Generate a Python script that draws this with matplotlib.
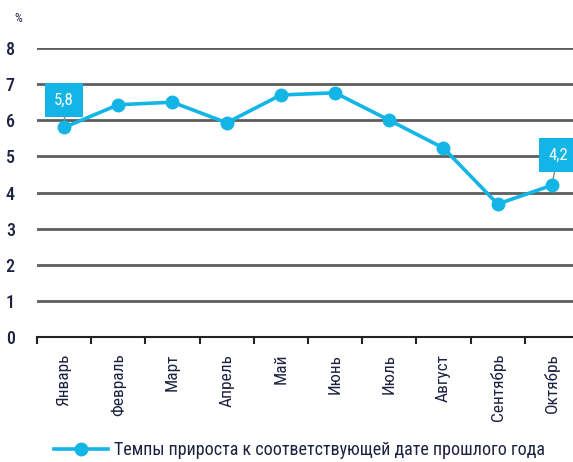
import numpy as np
import matplotlib.pyplot as plt

months = ["Январь", "Февраль", "Март", "Апрель", "Май", "Июнь",
          "Июль", "Август", "Сентябрь", "Октябрь"]
growth = [5.8, 6.43, 6.5, 5.93, 6.7, 6.76, 6.0, 5.23, 3.68, 4.2]
series_label = "Темпы прироста к соответствующей дате прошлого года"
y_ticks = [0, 1, 2, 3, 4, 5, 6, 7, 8]

font = ["Roboto Condensed", "DejaVu Sans"]
line_color = "#12b5e5"
text_color = "#1c2340"

fig = plt.figure(figsize=(5.73, 4.62), dpi=100)
ax = fig.add_axes([37 / 573, (462 - 337) / 462, 542 / 573, (337 - 48) / 462])

x = np.arange(len(months))
ax.plot(x, growth, color=line_color, lw=2.6, marker="o", ms=9, zorder=3,
        label=series_label)

ax.set_xlim(-0.5, len(months) - 0.5)
ax.set_ylim(0, 8)
ax.set_yticks(y_ticks)
ax.set_yticklabels([str(v) for v in y_ticks], family=font, fontsize=13,
                   fontweight="medium", color=text_color)
ax.yaxis.grid(True, color="#5e5e5e", lw=2)
ax.set_axisbelow(True)
for s in ["top", "right", "left"]:
    ax.spines[s].set_visible(False)
ax.spines["bottom"].set_color("#222222")
ax.spines["bottom"].set_linewidth(1.5)
ax.tick_params(axis="y", length=0, pad=16)

ax.set_xticks(x)
ax.set_xticklabels(months, rotation=90, fontsize=12.5, family=font,
                   color=text_color, va="top")
ax.tick_params(axis="x", which="major", length=0, pad=12)
ax.set_xticks(np.arange(len(months) + 1) - 0.5, minor=True)
ax.tick_params(axis="x", which="minor", length=5, width=1.5, color="#222222")

fig.text(18 / 573, 1 - 18 / 462, "%", fontsize=9, family=font,
         color=text_color, ha="center", va="center")

# value callouts
for i, ty in [(0, 6.56), (9, 5.04)]:
    tx = i if i == 0 else i + 0.11
    ax.plot([i, tx], [growth[i], ty], color="#888888", lw=1, zorder=2)
    ax.text(tx, ty, f"{growth[i]:.1f}".replace(".", ","), ha="center",
            va="center", color="white", fontsize=12, family=font, zorder=4,
            bbox=dict(boxstyle="square,pad=0.55", fc=line_color, ec="none"))

leg = fig.legend(loc="center left", bbox_to_anchor=(38 / 573, 1 - 450 / 462),
                 frameon=False, handlelength=3.0, handletextpad=0.3,
                 prop={"family": font, "size": 13})
for t in leg.get_texts():
    t.set_color(text_color)

fig.savefig("out.png", dpi=100)
